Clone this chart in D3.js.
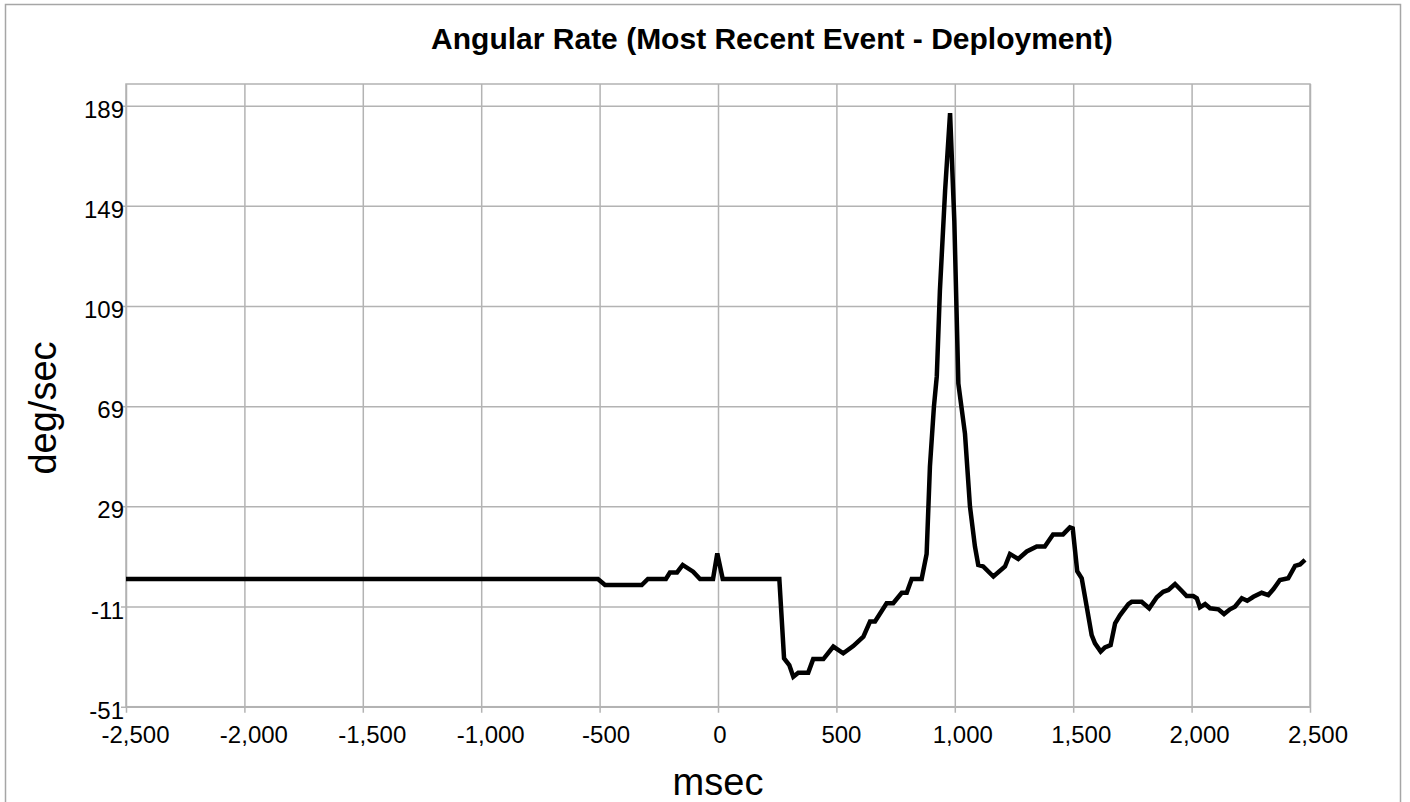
<!DOCTYPE html>
<html>
<head>
<meta charset="utf-8">
<script src="https://cdnjs.cloudflare.com/ajax/libs/d3/7.8.5/d3.min.js"></script>
<style>
  body { margin: 0; background: #fff; }
  svg { display: block; font-family: "Liberation Sans", Arial, sans-serif; }
</style>
</head>
<body>
<svg id="chart" width="1410" height="802"></svg>
<script>

// msec offsets and angular rate readings (deg/sec)
var msec = [-2500, -507, -477, -322, -296, -220, -203, -173, -149, -105, -76, -21, -3, 20, 259,
  279, 301, 318, 339, 381, 402, 445, 487, 529, 571, 614, 642, 663, 712, 740, 776, 797, 818, 860,
  881, 895, 912, 924, 937, 959, 980, 998, 1015, 1043, 1064, 1085, 1099, 1120, 1163, 1212, 1233,
  1268, 1304, 1346, 1380, 1415, 1457, 1486, 1498, 1517, 1536, 1557, 1578, 1592, 1616, 1634, 1658,
  1677, 1698, 1733, 1747, 1789, 1821, 1853, 1880, 1902, 1930, 1958, 1979, 2007, 2022, 2035, 2057,
  2078, 2113, 2137, 2162, 2183, 2212, 2235, 2261, 2296, 2324, 2345, 2373, 2408, 2437, 2458, 2479];

var rate = [0, 0, -2.4, -2.4, 0, 0, 2.6, 2.6, 5.6, 2.9, 0, 0, 10.2, 0, 0,
  -31.7, -34.4, -39, -37.4, -37.4, -32, -32, -27, -29.7, -26.8, -23, -17, -17, -9.7, -9.7, -5.5, -5.5, 0, 0,
  10, 45, 69, 81, 115, 155, 186, 143, 78, 58, 29, 13, 5.6, 5, 1, 5, 10,
  8, 11, 13, 13, 17.8, 17.8, 20.6, 20.2, 3.1, 0.3, -11, -22.4, -25.7, -29, -27.3, -26.4,
  -17.7, -14.4, -10, -9.1, -9.1, -11.7, -7.3, -5.1, -4.4, -2, -4.7, -6.8, -6.8, -7.7, -11.3, -10,
  -11.7, -12.1, -14, -12.1, -11.1, -7.7, -8.7, -7.1, -5.5, -6.4, -4.1, -0.4, 0.3, 5.2, 5.8, 7.6];

var xTicks = [-2500, -2000, -1500, -1000, -500, 0, 500, 1000, 1500, 2000, 2500];
var yTicks = [-51, -11, 29, 69, 109, 149, 189];

var titleText = "Angular Rate (Most Recent Event - Deployment)";
var xTitle = "msec";
var yTitle = "deg/sec";

var gridColor = "#b3b3b3";
var plotLeft = 126, plotRight = 1310, plotTop = 84, plotBottom = 706.7, yTopTick = 105.7;

var svg = d3.select("#chart");

// outer frame
svg.append("rect")
  .attr("x", 5.5).attr("y", 4.5)
  .attr("width", 1395).attr("height", 900)
  .attr("fill", "none")
  .attr("stroke", "#a6a6a6")
  .attr("stroke-width", 1.5);

var x = d3.scaleLinear().domain([-2500, 2500]).range([plotLeft, plotRight]);
var y = d3.scaleLinear().domain([-51, 189]).range([plotBottom, yTopTick]);

// hyphen instead of unicode minus, like the original
var comma = d3.format(",");
function fmt(d) { return comma(d).replace("\u2212", "-"); }

// vertical grid + ticks
var xAxis = d3.axisBottom(x).tickValues(xTicks)
  .tickSize(-(plotBottom - plotTop)).tickSizeOuter(0).tickFormat(fmt);

var gx = svg.append("g").attr("transform", "translate(0," + plotBottom + ")").call(xAxis);
gx.select(".domain").remove();
gx.selectAll(".tick line").attr("stroke", gridColor).attr("stroke-width", 1.5)
  .attr("y1", 6);
gx.selectAll(".tick text")
  .attr("fill", "#000")
  .attr("font-size", 24)
  .attr("font-family", "'Liberation Sans', Arial, sans-serif")
  .attr("y", 36)
  .attr("dy", 0)
  .attr("dx", function(d) { return fmt(d).length * 1.5; });

// horizontal grid + ticks
var yAxis = d3.axisLeft(y).tickValues(yTicks)
  .tickSize(-(plotRight - plotLeft)).tickSizeOuter(0).tickPadding(2).tickFormat(fmt);

var gy = svg.append("g").attr("transform", "translate(" + plotLeft + ",0)").call(yAxis);
gy.select(".domain").remove();
gy.selectAll(".tick line").attr("stroke", gridColor).attr("stroke-width", 1.5)
  .attr("x1", -5);
gy.selectAll(".tick text")
  .attr("fill", "#000")
  .attr("font-size", 24)
  .attr("font-family", "'Liberation Sans', Arial, sans-serif")
  .attr("x", -2)
  .attr("dy", 11.5);

// plot frame
svg.append("rect")
  .attr("x", plotLeft).attr("y", plotTop)
  .attr("width", plotRight - plotLeft).attr("height", plotBottom - plotTop)
  .attr("fill", "none")
  .attr("stroke", gridColor)
  .attr("stroke-width", 1.5);

// the line
var line = d3.line()
  .x(function(d, i) { return x(msec[i]); })
  .y(function(d) { return y(d); });

svg.append("path")
  .datum(rate)
  .attr("d", line)
  .attr("fill", "none")
  .attr("stroke", "#000")
  .attr("stroke-width", 4.5);

// titles
svg.append("text")
  .attr("x", 772).attr("y", 49)
  .attr("text-anchor", "middle")
  .attr("font-size", 30)
  .attr("font-weight", "bold")
  .text(titleText);

svg.append("text")
  .attr("x", (plotLeft + plotRight) / 2).attr("y", 795)
  .attr("text-anchor", "middle")
  .attr("font-size", 38)
  .text(xTitle);

svg.append("text")
  .attr("transform", "translate(56," + 408 + ") rotate(-90)")
  .attr("text-anchor", "middle")
  .attr("font-size", 38)
  .text(yTitle);

</script>
</body>
</html>
